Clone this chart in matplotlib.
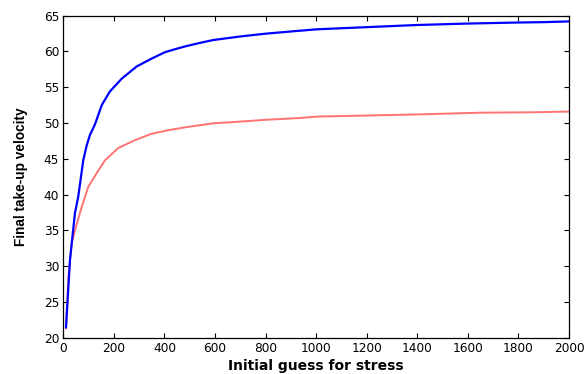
import matplotlib
matplotlib.use("Agg")
import matplotlib.pyplot as plt

blue_x = [10.7, 26.5, 46, 59, 79, 92, 105, 125, 152, 184, 231, 290, 349, 402, 440, 481, 540, 593, 700, 803, 935, 1003, 1200, 1398, 1596, 1800, 1899, 2000]
blue_y = [21.45, 30.9, 37.4, 39.7, 44.8, 46.8, 48.3, 49.8, 52.5, 54.4, 56.2, 57.9, 59.0, 59.9, 60.3, 60.7, 61.2, 61.6, 62.1, 62.5, 62.9, 63.1, 63.4, 63.7, 63.9, 64.05, 64.1, 64.2]

red_x = [10.7, 20, 33, 46, 73, 99, 132, 165, 217, 283, 349, 415, 481, 593, 700, 800, 935, 1003, 1200, 1398, 1655, 1850, 2000]
red_y = [21.3, 28.5, 33.2, 35.0, 38.3, 41.1, 43.0, 44.8, 46.5, 47.6, 48.5, 49.0, 49.4, 49.96, 50.2, 50.45, 50.7, 50.9, 51.05, 51.2, 51.45, 51.5, 51.6]

xticks = [0, 200, 400, 600, 800, 1000, 1200, 1400, 1600, 1800, 2000]
yticks = [20, 25, 30, 35, 40, 45, 50, 55, 60, 65]

plt.rcParams['font.family'] = ['DejaVu Sans']

fig = plt.figure(figsize=(5.84, 3.74), dpi=100)
ax = fig.add_axes([0.1084, 0.0971, 0.8659, 0.8609])
ax.plot(red_x, red_y, color='#ff7373', lw=1.4)
ax.plot(blue_x, blue_y, color='#0000ff', lw=1.6)
ax.set_xlim(0, 2000)
ax.set_ylim(20, 65)
ax.set_xticks(xticks)
ax.set_yticks(yticks)
ax.tick_params(direction='in', top=True, right=True, length=3.5, width=0.8, labelsize=8.7, pad=3)
for s in ax.spines.values():
    s.set_linewidth(0.9)
ax.set_xlabel('Initial guess for stress', fontsize=10, fontweight='bold', labelpad=3)
ax.set_ylabel('Final take-up velocity', fontsize=9.8, fontweight='bold',
              family=['Liberation Sans', 'DejaVu Sans'], labelpad=11)
fig.savefig('out.png', dpi=100)
